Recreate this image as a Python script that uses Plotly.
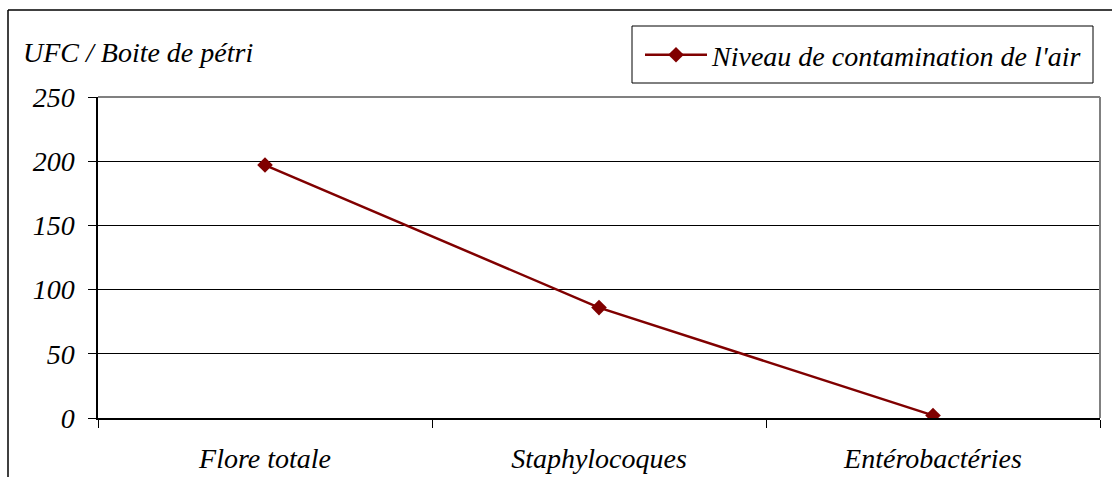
import plotly.graph_objects as go

# Air contamination counts per microbial group
categories = ["Flore totale", "Staphylocoques", "Entérobactéries"]
counts = [197, 86, 2]
series_name = "Niveau de contamination de l'air"
y_ticks = [0, 50, 100, 150, 200, 250]

W, H = 1112, 477
L, R, T, B = 98, 12, 97, 59
pw, ph = W - L - R, H - T - B


def px_x(x):
    return (x - L) / pw


def px_y(y):
    return (H - B - y) / ph


dark_red = "#800000"
font = dict(family="Liberation Serif", size=28, color="black", style="italic")

fig = go.Figure()
fig.add_trace(go.Scatter(
    x=categories, y=counts, name=series_name, mode="lines+markers",
    line=dict(color=dark_red, width=2.5),
    marker=dict(symbol="diamond", size=12, color=dark_red),
))

fig.update_layout(
    width=W, height=H,
    margin=dict(l=L, r=R, t=T, b=B, autoexpand=False),
    paper_bgcolor="white", plot_bgcolor="white",
    font=font,
    showlegend=True,
    legend=dict(
        x=px_x(640), y=px_y(55), xanchor="left", yanchor="middle",
        borderwidth=0, bgcolor="rgba(0,0,0,0)",
        font=font, itemwidth=62,
    ),
    xaxis=dict(
        type="category", range=[-0.5, 2.5], tickson="boundaries",
        ticks="outside", ticklen=8, tickcolor="black", tickwidth=1,
        showline=True, linecolor="black", linewidth=1.5,
        showgrid=False, zeroline=False, ticklabelstandoff=15,
        tickfont=font,
    ),
    yaxis=dict(
        range=[0, 250], tickvals=y_ticks, ticktext=[str(v) for v in y_ticks],
        ticks="outside", ticklen=8, tickcolor="black", tickwidth=1,
        showline=True, linecolor="black", linewidth=1.5,
        showgrid=True, gridcolor="black", gridwidth=1,
        zeroline=False, ticklabelstandoff=8,
        tickfont=font,
    ),
    shapes=[
        # grey frame on top and right of the plot area
        dict(type="line", xref="paper", yref="paper", x0=0, x1=1, y0=1, y1=1,
             line=dict(color="#808080", width=2)),
        dict(type="line", xref="paper", yref="paper", x0=1, x1=1, y0=0, y1=1,
             line=dict(color="#808080", width=2)),
        # outer chart border
        dict(type="line", xref="paper", yref="paper", x0=px_x(8), x1=px_x(W + 5),
             y0=px_y(10), y1=px_y(10), line=dict(color="black", width=1.5)),
        dict(type="line", xref="paper", yref="paper", x0=px_x(8), x1=px_x(8),
             y0=px_y(10), y1=px_y(H + 5), line=dict(color="black", width=1.5)),
        # legend frame
        dict(type="rect", xref="paper", yref="paper", x0=px_x(632), x1=px_x(1093),
             y0=px_y(83), y1=px_y(26), line=dict(color="black", width=1),
             fillcolor="rgba(0,0,0,0)", layer="below"),
    ],
    annotations=[
        dict(text="UFC / Boite de pétri", xref="paper", yref="paper",
             x=px_x(21), y=px_y(52), xanchor="left", yanchor="middle",
             showarrow=False, font=font),
    ],
)

fig.write_html("out.html")
